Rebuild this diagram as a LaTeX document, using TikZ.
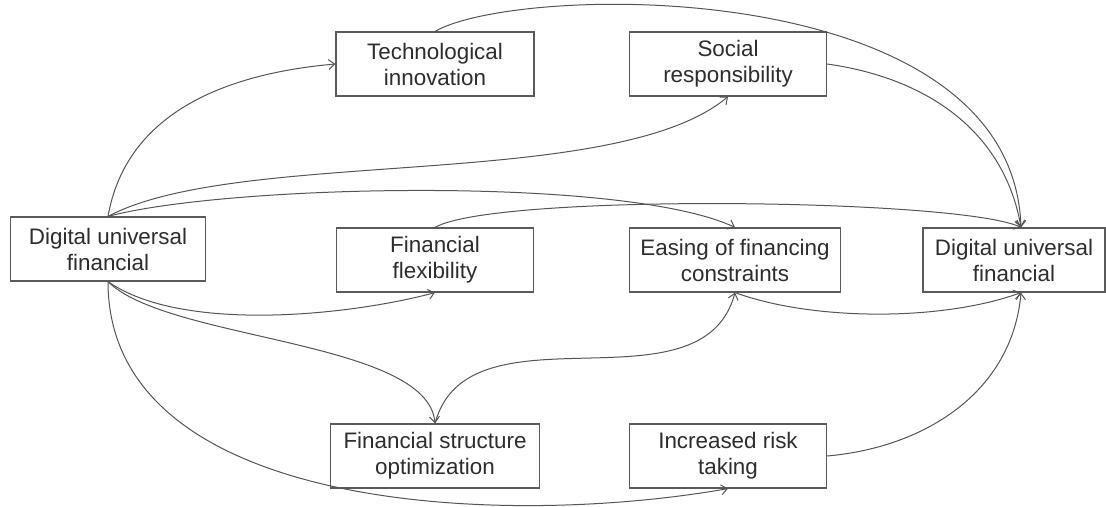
\documentclass[tikz,border=0pt]{standalone}
\usepackage{fontspec}
\setmainfont{Liberation Sans}
\definecolor{BoxGray}  {RGB}{90,90,90}
\definecolor{FlowGray} {RGB}{85,85,85}
\definecolor{TextGray} {RGB}{45,45,45}
\usetikzlibrary{arrows.meta,positioning}

\begin{document}
\begin{tikzpicture}[node distance=98pt,on grid,
  box/.style={draw=BoxGray,line width=0.6pt,fill=white,
              minimum width=98.5pt,minimum height=32pt,
              align=center,text=TextGray,
              font=\fontsize{11.2}{13}\selectfont},
  flow/.style={-{Straight Barb[length=3pt,width=5pt]},FlowGray,
               line width=0.5pt}]
  \useasboundingbox (0,0) rectangle (553pt,-253.5pt);
  \node[box](FF) at (217.5pt,-130pt){Financial\\flexibility};
  \node[box,minimum width=99pt,above=of FF](TI){Technological\\innovation};
  \node[box,minimum width=104.5pt,below=of FF](FS){Financial structure\\optimization};
  \node[box,minimum width=105.5pt,right=150pt of FF](EF){Easing of financing\\constraints};
  \node[box,above=of EF,xshift=-3.5pt](SR){Social\\responsibility};
  \node[box,below=of EF,xshift=-3.5pt](IR){Increased risk\\taking};
  \node[box,minimum width=91pt,right=139.5pt of EF](DR){Digital universal\\financial};
  \node[box,minimum width=97.5pt,left=163.5pt of FF,yshift=5.5pt]
       (DL){Digital universal\\financial};
  \coordinate (DRin)  at ([xshift=3.5pt]DR.north);
  \coordinate (DRout) at ([xshift=3.5pt]DR.south);
  \draw[flow](DL.north) to[out=80,in=185] (TI.west);
  \draw[flow](DL.north) to[out=28,in=-140,looseness=0.6] (SR.south);
  \draw[flow](DL.north) to[out=15,in=155,looseness=0.5] (EF.north);
  \draw[flow](FF.north) to[out=30,in=155,looseness=0.3] (DRin);
  \draw[flow](TI.north) to[out=30,in=92,out looseness=0.4,in looseness=1.05] (DRin);
  \draw[flow](SR.east) to[out=-8,in=100] (DRin);
  \draw[flow](DL.south) to[out=-35,in=-165,looseness=0.7] (FF.south);
  \draw[flow](DL.south) to[out=-45,in=95,looseness=0.6] (FS.north);
  \draw[flow](DL.south) to[out=-90,in=-170,looseness=0.9] (IR.south);
  \draw[flow](FS.north) to[out=75,in=-105] (EF.south);
  \draw[flow](EF.south) to[out=-20,in=-160,looseness=0.75] (DRout);
  \draw[flow](IR.east) to[out=5,in=-95] (DRout);
\end{tikzpicture}
\end{document}
